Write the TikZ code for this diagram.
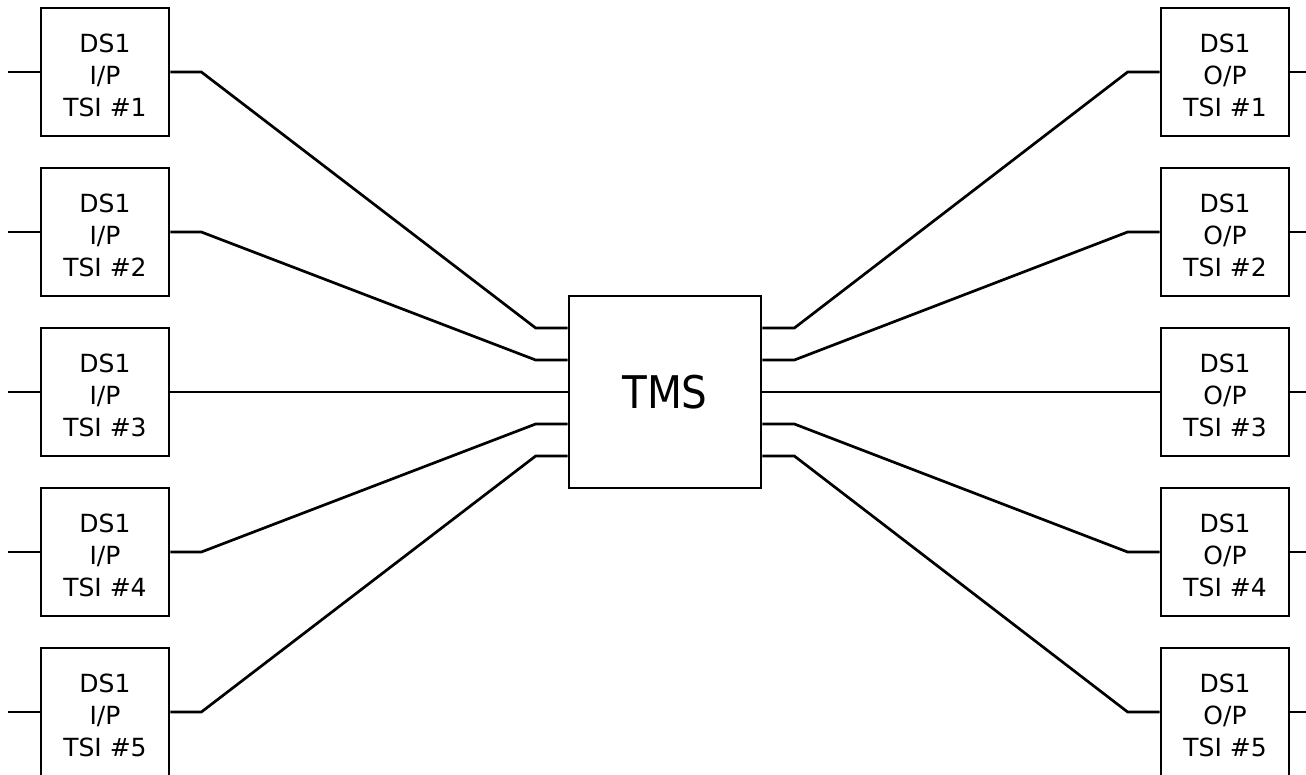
\documentclass[tikz,border=0pt]{standalone}
\usepackage{fontspec}
\setmainfont{DejaVu Sans}
\newfontfamily\tmsfont{DejaVu Sans Condensed}
\usetikzlibrary{calc}
\begin{document}
\begin{tikzpicture}[x=1pt,y=-1pt,line width=2.7pt,
  tsibox/.style={draw,minimum width=128pt,minimum height=128pt,inner sep=0pt},
  tsitext/.style={inner sep=0pt,align=center,font=\fontsize{25}{32}\selectfont},
  tmsbox/.style={draw,minimum width=192pt,minimum height=192pt,inner sep=0pt,font=\tmsfont\fontsize{45}{53}\selectfont}]
\useasboundingbox (0,0) rectangle (1306,774);
\clip (0,0) rectangle (1306,774);
\node[fill=white,inner sep=0pt,minimum width=1306pt,minimum height=774pt,anchor=north west] (bg) at (0,0) {};
\node[tmsbox] (tms) at (665,392) {TMS};
\foreach \i/\yc/\py in {1/72/-64,2/232/-32,3/392/0,4/552/32,5/712/64}{
  \node[tsibox] (L\i) at (105,\yc) {};
  \node[tsitext] (Lt\i) at ($(L\i.center)+(0,3)$) {DS1\\I/P\\TSI \#\i};
  \node[tsibox] (R\i) at (1225,\yc) {};
  \node[tsitext] (Rt\i) at ($(R\i.center)+(0,3)$) {DS1\\O/P\\TSI \#\i};
  \coordinate (pl\i) at ($(tms.west)+(0,\py)$);
  \coordinate (pr\i) at ($(tms.east)+(0,\py)$);
  \draw (L\i.west) -- ++(-32,0);
  \draw (R\i.east) -- ++(32,0);
  \draw (L\i.east) -- ++(31,0) -- ($(pl\i)+(-32,0)$) -- (pl\i);
  \draw (R\i.west) -- ++(-32,0) -- ($(pr\i)+(32,0)$) -- (pr\i);
}
\end{tikzpicture}
\end{document}
